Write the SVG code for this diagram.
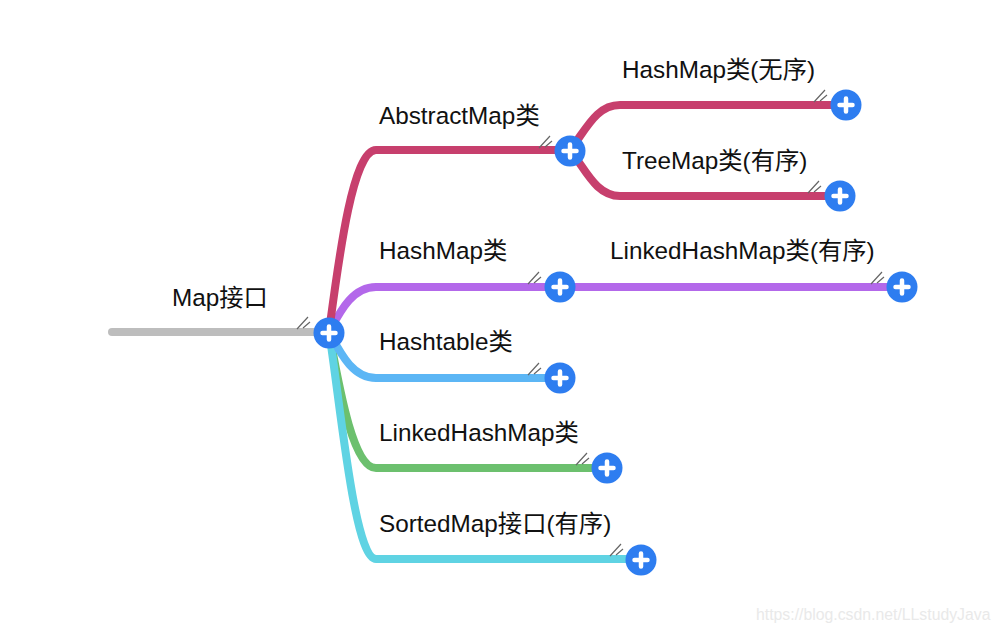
<svg xmlns="http://www.w3.org/2000/svg" width="1000" height="632" viewBox="0 0 1000 632">
<defs>
<g id="plus"><circle r="15.500" fill="#2e7df0"/><path d="M-6.500 0H6.500M0 -6.500V6.500" stroke="#fff" stroke-width="4.500" fill="none" stroke-linecap="round"/></g>
<g id="tick"><path d="M-10 5L1 -7M-4 4L3 -2" stroke="#666" stroke-width="1.200" fill="none"/></g>
</defs>
<style>
.l{fill:none;stroke-width:8;stroke-linecap:round}
.t{font-family:"Liberation Sans","Noto Sans CJK SC",sans-serif;font-size:24.300px;fill:#111}
</style>
<rect width="1000" height="632" fill="#fff"/>
<g id="connectors">
<path class="l" stroke="#bdbdbd" d="M112 332H329"/>
<path class="l" stroke="#6cc06e" d="M329 332C338 380 352 468 376 468H607"/>
<path class="l" stroke="#5fd3e3" d="M329 332C340 400 354 559 376 559H641"/>
<path class="l" stroke="#5cb6f5" d="M329 332C340 352 352 378 376 378H560"/>
<path class="l" stroke="#b368ea" d="M329 332C340 312 352 287 376 287H902"/>
<path class="l" stroke="#c73f6d" d="M329 332C338 265 352 150 376 150H570"/>
<path class="l" stroke="#c73f6d" d="M570 150C586 130 596 105 620 105H846"/>
<path class="l" stroke="#c73f6d" d="M570 150C586 170 596 196 620 196H840"/>
</g>
<g id="n-map"><text class="t" x="172" y="306">Map接口</text><use href="#tick" x="307" y="324"/><use href="#plus" x="329" y="333"/></g>
<g id="n-abstract"><text class="t" x="379" y="124">AbstractMap类</text><use href="#tick" x="549" y="143"/><use href="#plus" x="570" y="151"/></g>
<g id="n-hashmap-u"><text class="t" x="622" y="78">HashMap类(无序)</text><use href="#tick" x="824" y="97"/><use href="#plus" x="846" y="105"/></g>
<g id="n-tree"><text class="t" x="622" y="169">TreeMap类(有序)</text><use href="#tick" x="818" y="188"/><use href="#plus" x="840" y="196"/></g>
<g id="n-hashmap"><text class="t" x="379" y="259">HashMap类</text><use href="#tick" x="538" y="279"/><use href="#plus" x="560" y="287"/></g>
<g id="n-linked-o"><text class="t" x="610" y="259">LinkedHashMap类(有序)</text><use href="#tick" x="881" y="279"/><use href="#plus" x="902" y="287"/></g>
<g id="n-hashtable"><text class="t" x="379" y="350">Hashtable类</text><use href="#tick" x="538" y="370"/><use href="#plus" x="560" y="378"/></g>
<g id="n-linked"><text class="t" x="379" y="441">LinkedHashMap类</text><use href="#tick" x="586" y="460"/><use href="#plus" x="607" y="468"/></g>
<g id="n-sorted"><text class="t" x="379" y="532">SortedMap接口(有序)</text><use href="#tick" x="620" y="551"/><use href="#plus" x="641" y="560"/></g>
<text x="756" y="620" font-family="'Liberation Sans',sans-serif" font-size="15.800" fill="#e9e9e9">https://blog.csdn.net/LLstudyJava</text>
</svg>
